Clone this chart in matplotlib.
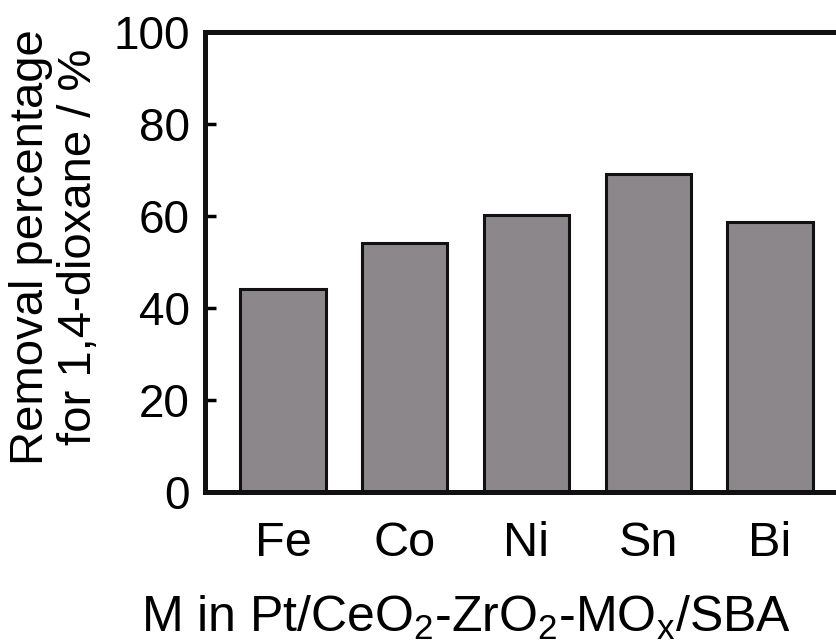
import matplotlib
matplotlib.use('Agg')
import matplotlib.pyplot as plt

# values
metals = ['Fe', 'Co', 'Ni', 'Sn', 'Bi']
removal = [44.1, 54.1, 60.2, 69.2, 58.7]
yticks = [0, 20, 40, 60, 80, 100]

plt.rcParams['font.family'] = ['Liberation Sans', 'DejaVu Sans']
plt.rcParams['mathtext.default'] = 'regular'

fig = plt.figure(figsize=(8.37, 6.42), dpi=100)
ax = fig.add_axes([0.245, 0.2336, 0.768, 0.7165])

x = list(range(len(metals)))
ax.bar(x, removal, width=0.70, color='#8b878a', edgecolor='#111111', linewidth=2.2)

ax.set_xlim(-0.64, 4.64)
ax.set_ylim(0, 100)
ax.set_yticks(yticks)
ax.set_xticks(x)
ax.set_xticklabels(metals)

for s in ax.spines.values():
    s.set_linewidth(3.6)
    s.set_color('#111111')

ax.tick_params(axis='y', direction='in', length=8, width=2.5, labelsize=33, pad=11)
ax.tick_params(axis='x', length=0, labelsize=35, pad=21)

fig.text(55 / 837, 0.615, 'Removal percentage\nfor 1,4-dioxane / %', rotation=90,
         ha='center', va='center', fontsize=34, linespacing=1.12)
fig.text(466 / 837, 10 / 642, 'M in Pt/CeO$_2$-ZrO$_2$-MO$_x$/SBA',
         ha='center', va='baseline', fontsize=36)

fig.savefig('out.png', dpi=100)
